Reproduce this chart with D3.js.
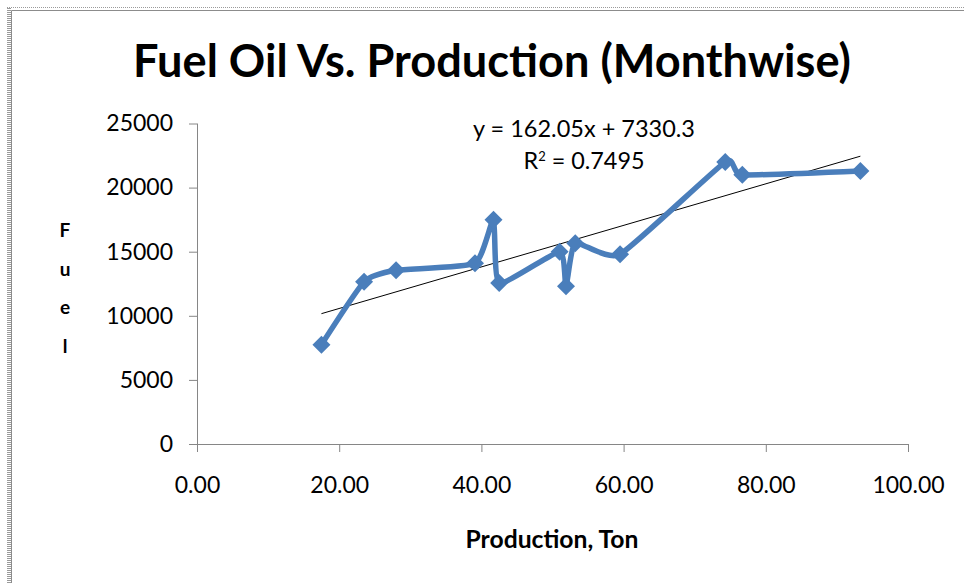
<!DOCTYPE html>
<html>
<head>
<meta charset="utf-8">
<script src="https://cdn.jsdelivr.net/npm/d3@7"></script>
<style>
  html, body { margin: 0; padding: 0; background: #fff; }
  svg { display: block; }
  text { font-family: Lato, "Open Sans", sans-serif; fill: #000; }
</style>
</head>
<body>
<svg id="chart" width="964" height="583"></svg>
<script>
// ---- data ----
const production = [17.5, 23.5, 28.0, 39.1, 41.7, 42.5, 51.0, 51.9, 53.2, 59.5, 74.3, 76.7, 93.3];
const fuel = [7750, 12650, 13550, 14100, 17500, 12550, 15000, 12300, 15650, 14800, 22000, 21000, 21300];
const xTicks = [0, 20, 40, 60, 80, 100];
const yTicks = [0, 5000, 10000, 15000, 20000, 25000];
const trendSlope = 162.05;
const trendIntercept = 7330.3;
const rSquared = 0.7495;
const titleText = "Fuel Oil Vs. Production (Monthwise)";
const xTitle = "Production, Ton";
const yTitleLetters = ["F", "u", "e", "l"];

// ---- layout ----
const W = 964, H = 583;
const plot = { left: 197, right: 908, top: 123.5, bottom: 444 };
const svg = d3.select("#chart");

// frame
const pat = svg.append("defs").append("pattern")
  .attr("id", "hatch").attr("width", 4).attr("height", 2)
  .attr("patternUnits", "userSpaceOnUse");
pat.append("rect").attr("width", 4).attr("height", 1).attr("fill", "#9a9a9a");
svg.append("rect").attr("x", 7).attr("y", 7).attr("width", 4).attr("height", H - 7).attr("fill", "url(#hatch)");
svg.append("line").attr("x1", 7).attr("x2", W).attr("y1", 7.5).attr("y2", 7.5)
  .attr("stroke", "#9a9a9a").attr("stroke-dasharray", "1,1");
svg.append("line").attr("x1", 11.5).attr("x2", W).attr("y1", 10.5).attr("y2", 10.5).attr("stroke", "#8c8c8c");
svg.append("line").attr("x1", 11.5).attr("x2", 11.5).attr("y1", 10.5).attr("y2", H).attr("stroke", "#8c8c8c");

const x = d3.scaleLinear().domain([0, 100]).range([plot.left, plot.right]);
const y = d3.scaleLinear().domain([0, 25000]).range([plot.bottom, plot.top]);

function fitText(sel, targetWidth) {
  const node = sel.node();
  const fs = parseFloat(sel.attr("font-size"));
  const w = node.getComputedTextLength();
  if (w > 0) sel.attr("font-size", fs * targetWidth / w);
}

// title
const title = svg.append("text").attr("x", 492).attr("y", 77)
  .attr("text-anchor", "middle").attr("font-weight", "bold").attr("font-size", 40)
  .text(titleText);
fitText(title, 718);

// axes
const axisColor = "#868686";
const yAxis = svg.append("g").attr("transform", `translate(${plot.left},0)`)
  .call(d3.axisLeft(y).tickValues(yTicks).tickSize(8).tickPadding(16).tickFormat(d3.format("d")));
const xAxis = svg.append("g").attr("transform", `translate(0,${plot.bottom})`)
  .call(d3.axisBottom(x).tickValues(xTicks).tickSize(8).tickPadding(25).tickFormat(d3.format(".2f")));
[xAxis, yAxis].forEach(g => {
  g.select(".domain").attr("stroke", axisColor);
  g.selectAll(".tick line").attr("stroke", axisColor);
  g.selectAll(".tick text").attr("font-family", "Lato, sans-serif").attr("font-size", 23).attr("fill", "#000");
});
// Excel-style: axis lines without outer end caps
yAxis.select(".domain").attr("d", `M0.5,${y(25000)}V${y(0) + 0.5}`);
xAxis.select(".domain").attr("d", `M${x(0)},0.5H${x(100) + 0.5}`);

// axis titles
const xt = svg.append("text").attr("x", 552).attr("y", 548).attr("text-anchor", "middle")
  .attr("font-weight", "bold").attr("font-size", 21).text(xTitle);
fitText(xt, 173);
svg.append("g").selectAll("text").data(yTitleLetters).join("text")
  .attr("x", 65).attr("y", (d, i) => 237 + i * 38.7)
  .attr("text-anchor", "middle").attr("font-weight", "bold").attr("font-size", 19)
  .text(d => d);

// trendline
const xMin = d3.min(production), xMax = d3.max(production);
svg.append("line")
  .attr("x1", x(xMin)).attr("y1", y(trendSlope * xMin + trendIntercept))
  .attr("x2", x(xMax)).attr("y2", y(trendSlope * xMax + trendIntercept))
  .attr("stroke", "#000").attr("stroke-width", 1);

// series line (smoothed)
const pts = production.map((p, i) => [p, fuel[i]]);
const line = d3.line().x(d => x(d[0])).y(d => y(d[1])).curve(d3.curveCardinal.tension(0.5));
const blue = "#4A7EBB";
svg.append("path").datum(pts).attr("d", line)
  .attr("fill", "none").attr("stroke", blue).attr("stroke-width", 5.5)
  .attr("stroke-linejoin", "round").attr("stroke-linecap", "round");

// diamond markers
const r = 9;
svg.append("g").selectAll("path").data(pts).join("path")
  .attr("d", d => {
    const cx = x(d[0]), cy = y(d[1]);
    return `M${cx},${cy - r}L${cx + r},${cy}L${cx},${cy + r}L${cx - r},${cy}Z`;
  })
  .attr("fill", blue);

// equation label
const eq1 = svg.append("text").attr("x", 584).attr("y", 137).attr("text-anchor", "middle")
  .attr("font-size", 21).text(`y = ${trendSlope.toFixed(2)}x + ${trendIntercept.toFixed(1)}`);
fitText(eq1, 222);
const eq2 = svg.append("text").attr("x", 584).attr("y", 168.5).attr("text-anchor", "middle")
  .attr("font-size", 21);
eq2.append("tspan").text("R");
eq2.append("tspan").attr("font-size", 13).attr("dy", -8).text("2");
eq2.append("tspan").attr("dy", 8).text(` = ${rSquared.toFixed(4)}`);
fitText(eq2, 122);
</script>
</body>
</html>
